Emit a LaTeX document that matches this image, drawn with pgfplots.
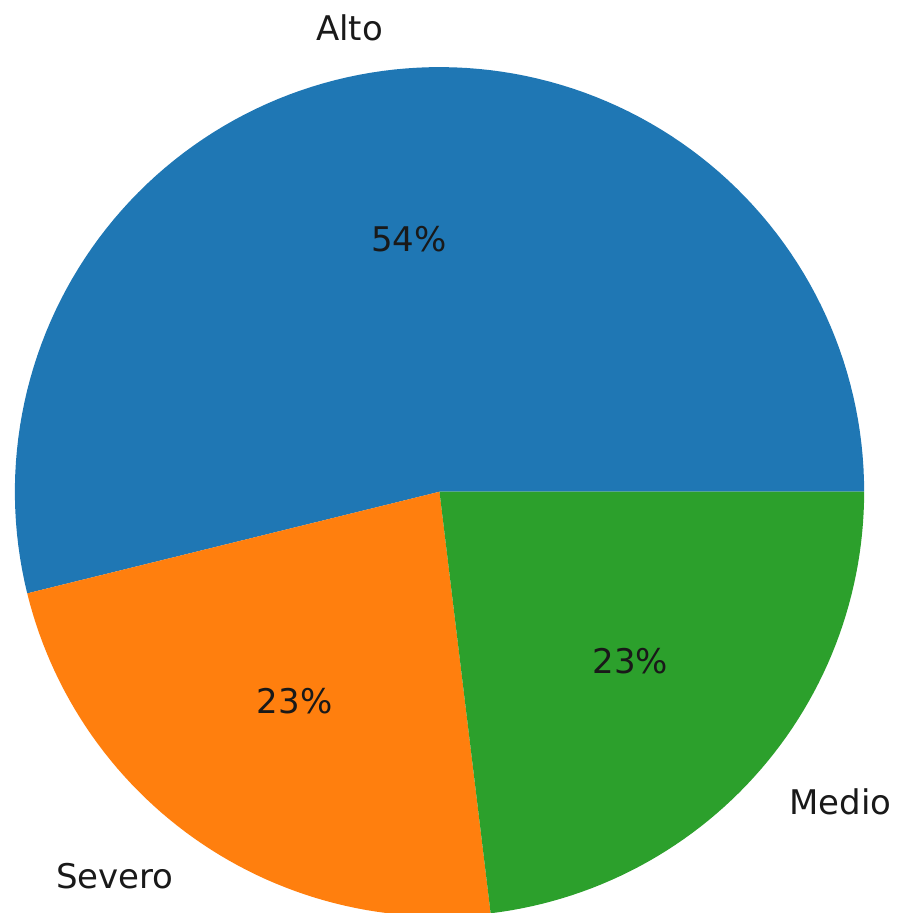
\documentclass[border=0pt]{standalone}
\usepackage{pgfplots}
\pgfplotsset{compat=1.18}
\usepackage{fontspec}
\setmainfont{DejaVu Sans}
\definecolor{mplblue}{HTML}{1F77B4}
\definecolor{mplorange}{HTML}{FF7F0E}
\definecolor{mplgreen}{HTML}{2CA02C}
\begin{document}
\begin{tikzpicture}
\begin{axis}[
  name=ax,
  hide axis, scale only axis,
  x=212.5pt, y=212.5pt,
  xmin=-1.035, xmax=1.078, ymin=-0.992, ymax=1.158,
  clip=false,
]
% Alto 53.85%  -> 0 : 193.85 deg
\addplot[fill=mplblue, draw=none, domain=0:193.85, samples=120]
  ({cos(x)},{sin(x)}) -- (axis cs:0,0) -- cycle;
% Severo 23.08% -> 193.85 : 276.92 deg
\addplot[fill=mplorange, draw=none, domain=193.85:276.92, samples=60]
  ({cos(x)},{sin(x)}) -- (axis cs:0,0) -- cycle;
% Medio 23.08% -> 276.92 : 360 deg
\addplot[fill=mplgreen, draw=none, domain=276.92:360, samples=60]
  ({cos(x)},{sin(x)}) -- (axis cs:0,0) -- cycle;
\begin{scope}[every node/.style={inner sep=0pt, font=\fontsize{17}{20}\selectfont, text=black!90}]
\node[anchor=east] at (axis cs:-0.1326,1.0920) {Alto};
\node at (axis cs:-0.0723,0.5956) {54\%};
\node[anchor=east] at (axis cs:-0.6249,-0.9053) {Severo};
\node at (axis cs:-0.3409,-0.4938) {23\%};
\node[anchor=west] at (axis cs:0.8234,-0.7294) {Medio};
\node at (axis cs:0.4491,-0.3979) {23\%};
\end{scope}
\end{axis}
\pgfresetboundingbox
\path[use as bounding box] (ax.south west) rectangle (ax.north east);
\end{tikzpicture}
\end{document}
